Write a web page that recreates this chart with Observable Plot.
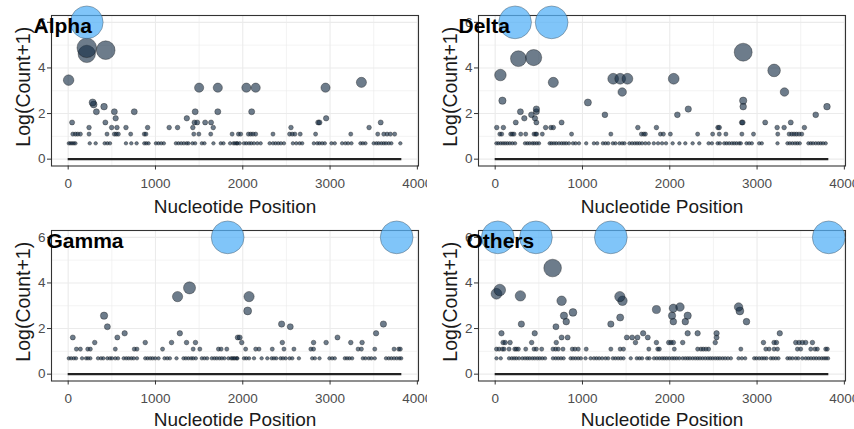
<!DOCTYPE html>
<html><head><meta charset="utf-8">
<script src="https://cdn.jsdelivr.net/npm/d3@7"></script>
<script src="https://cdn.jsdelivr.net/npm/@observablehq/plot@0.6"></script>
<style>
body{margin:0;background:#fff;}
#root{position:relative;width:854px;height:429px;overflow:hidden;background:#fff;}
.panel{position:absolute;}
.panel svg{overflow:hidden;}
</style></head><body><div id="root"></div>
<script>
// ---- axes / layout constants (values) ----
const panelNames = ["Alpha", "Delta", "Gamma", "Others"];
const genomeSpan = [0, 3822];
const xTicks = [0, 1000, 2000, 3000, 4000];
const xMinor = [500, 1500, 2500, 3500];
const yTicks = [0, 2, 4, 6];
const yMinor = [1, 3, 5];
const logCap = 6; // Log(Count+1) values above this are capped

// ---- Alpha ----
const alphaCapped = [213];
const alphaMulti = [[5,31],[213,131],[213,100],[430,118],[280,11],[292,10],[323,7],[411,9],[529,7],[544,5],[757,7],[45,4],
  [1500,22],[1714,22],[2041,22],[2148,22],[2948,22],[3359,28],[1455,7],[1714,7],[2102,7],[1359,5],[2955,5],
  [426,4],[1447,4],[1478,4],[1569,4],[1637,4],[2864,4],[2879,4],[3580,4],
  [239,3],[498,3],[559,3],[662,3],[910,3],[1157,3],[1253,3],[1428,3],[1662,3],[2552,3],[3447,3]];
const alphaTwos = [53,83,110,140,239,445,529,552,575,716,872,891,1439,1497,1633,1878,1950,1976,2064,2091,2117,2148,2346,2536,2567,2597,2658,2834,3237,3546,3615,3653,3691,3740];
const alphaOnes = [7,26,45,64,83,247,315,418,449,479,662,723,784,872,895,921,1005,1035,1066,1096,1234,1264,1295,1325,1356,1378,1424,1455,1531,1561,1664,1748,1779,1855,1893,1931,1911,1938,1965,2014,2041,2072,2098,2129,2167,2205,2308,2346,2376,2407,2437,2472,2574,2613,2651,2681,2814,2853,2879,2910,2940,3016,3054,3138,3176,3207,3245,3348,3375,3405,3500,3531,3557,3588,3615,3641,3672,3702,3805];

// ---- Delta ----
const deltaCapped = [228, 647];
const deltaMulti = [[266,81],[441,85],[60,39],[666,28],[1352,33],[1432,33],[1515,33],[1455,18],[2045,33],[2841,108],[3195,48],[3314,18],
  [83,12],[1062,11],[2841,12],[2841,9],[1257,6],[289,7],[334,5],[415,6],[472,8],[472,7],[456,5],[236,4],[472,4],[2087,6],[2212,8],[3672,6],[3801,9],[2826,4],[2835,4],[3093,4],[3386,4],[761,4],
  [18,3],[94,3],[578,3],[639,3],[666,3],[1634,3],[1847,3],[2552,3],[2567,3],[3230,3],[3310,3],[3542,3]];
const deltaTwos = [53,75,178,197,216,293,350,445,464,475,540,875,1325,1675,1702,1721,1893,1927,2007,2319,2491,2567,2643,2826,2959,3237,3367,3397,3424,3451,3481,3512];
const deltaOnes = [14,37,64,90,114,140,167,197,228,342,369,395,426,449,476,502,624,647,674,700,731,761,788,814,845,891,921,960,1043,1131,1169,1234,1264,1295,1348,1378,1424,1455,1481,1538,1569,1599,1626,1653,1683,1721,1760,1817,1866,1912,1957,2033,2110,2178,2262,2338,2445,2483,2548,2574,2624,2651,2681,2712,2738,2765,2795,2814,2879,2910,2940,3024,3054,3234,3348,3375,3405,3435,3462,3489,3588,3615,3641,3672,3702,3729,3756,3786];

// ---- Gamma ----
const gammaCapped = [1827, 3763];
const gammaMulti = [[1253,29],[1390,43],[2072,29],[2056,15],[411,12],[449,7],[2445,8],[2544,7],[3611,8],
  [53,4],[563,4],[1942,4],[1965,4],[3085,4],[647,5],[1279,5],[3527,5],
  [304,3],[883,3],[1184,3],[1356,3],[1458,3],[1988,3],[2453,3],[2811,3],[2955,3],[3237,3],[3367,3]];
const gammaTwos = [94,140,224,254,540,757,788,1081,1432,1508,1721,1752,1817,2033,2148,2186,2338,2472,2586,2780,2811,3321,3359,3512,3733,3786,3805];
const gammaOnes = [7,34,64,90,159,205,228,254,342,376,403,449,479,502,540,571,636,666,693,723,750,788,883,910,940,967,998,1035,1104,1135,1165,1241,1321,1348,1378,1409,1432,1462,1531,1561,1592,1645,1675,1702,1733,1760,1790,1836,1866,1897,1931,1881,1911,1938,2014,2041,2072,2129,2216,2281,2331,2357,2384,2433,2460,2491,2536,2567,2643,2795,2826,2879,2993,3024,3054,3169,3195,3222,3253,3375,3405,3443,3473,3512,3641,3672,3702,3733,3763,3794,3815];

// ---- Others ----
const othersCapped = [30, 467, 1325, 3821];
const othersMulti = [[658,104],[15,33],[53,39],[289,30],[761,24],[891,14],[788,12],[814,9],[696,7],[300,8],[1428,29],[1458,24],[1432,11],[1325,8],[1847,16],
  [2041,17],[2117,18],[2026,12],[2041,9],[2205,12],[2178,9],[2788,18],[2803,15],[2879,9],
  [72,5],[453,5],[1695,5],[2205,5],[2319,5],[2536,5],[3260,5],
  [761,4],[830,4],[1508,4],[1569,4],[1630,4],[1748,4],[2536,4],
  [91,3],[114,3],[171,3],[418,3],[700,3],[1607,3],[1847,3],[1988,3],[2014,3],[2041,3],[2148,3],[2521,3],[3073,3],[3195,3],[3222,3],[3443,3],[3481,3],[3519,3],[3557,3],[3634,3]];
const othersTwos = [15,45,83,102,159,224,243,266,350,445,472,533,662,693,723,777,883,914,952,1043,1325,1432,1470,1760,1862,1881,2052,2319,2357,2384,2414,2445,2814,3100,3138,3195,3234,3462,3500,3615,3664,3691,3786,3805];
const othersOnes = [15,64,159,190,217,243,274,312,342,369,395,426,453,483,510,540,571,662,693,723,754,784,864,891,921,952,982,1035,1093,1131,1161,1192,1226,1264,1295,1348,1378,1409,1439,1470,1553,1622,1653,1683,1741,1767,1820,1851,1882,1912,1938,1965,1995,2026,2052,2079,2110,2148,2178,2205,2231,2262,2292,2319,2346,2376,2407,2437,2464,2491,2521,2548,2574,2605,2635,2666,2700,2788,2826,2864,2967,2993,3024,3054,3081,3108,3157,3184,3214,3245,3348,3375,3405,3443,3473,3519,3557,3588,3618,3649,3679,3710,3740,3767,3790,3813];

// ---- build ----
const capCount = Math.expm1(logCap);
function rows(multi, twos, ones) {
  return [
    ...multi.map(([pos, count]) => ({pos, count})),
    ...twos.map(pos => ({pos, count: 2})),
    ...ones.map(pos => ({pos, count: 1}))
  ];
}
const panels = [
  {name: panelNames[0], pts: rows(alphaMulti, alphaTwos, alphaOnes), capped: alphaCapped, left: 0, top: 0, h: 215, titleX: 33, xTitleDy: 41},
  {name: panelNames[1], pts: rows(deltaMulti, deltaTwos, deltaOnes), capped: deltaCapped, left: 427, top: 0, h: 215, titleX: 31, xTitleDy: 41},
  {name: panelNames[2], pts: rows(gammaMulti, gammaTwos, gammaOnes), capped: gammaCapped, left: 0, top: 215, h: 214, titleX: 46, xTitleDy: 39},
  {name: panelNames[3], pts: rows(othersMulti, othersTwos, othersOnes), capped: othersCapped, left: 427, top: 215, h: 214, titleX: 39, xTitleDy: 39}
];

const root = document.getElementById("root");
const font = "'Liberation Sans', Arial, sans-serif";
for (const p of panels) {
  const mt = 15, mb = p.h - 165.5, ml = 51, mr = 9;
  const capRows = p.capped.map(pos => ({pos, count: capCount}));
  const chart = Plot.plot({
    width: 427, height: p.h,
    marginTop: mt, marginBottom: mb, marginLeft: ml, marginRight: mr,
    style: {fontFamily: font, background: "transparent", overflow: "hidden"},
    x: {domain: [-191, 4013], label: null},
    y: {domain: [-0.3, 6.3], label: null},
    r: {type: "sqrt", domain: [0, capCount], range: [1, 16.4], clamp: true},
    marks: [
      Plot.ruleX(xMinor, {stroke: "#EBEBEB", strokeWidth: 0.6}),
      Plot.ruleY(yMinor, {stroke: "#EBEBEB", strokeWidth: 0.6}),
      Plot.ruleX(xTicks, {stroke: "#EBEBEB", strokeWidth: 1.1}),
      Plot.ruleY(yTicks, {stroke: "#EBEBEB", strokeWidth: 1.1}),
      Plot.frame({stroke: "#333333", strokeWidth: 1.1}),
      Plot.axisX({ticks: xTicks, tickSize: 4, tickPadding: 8.5, fontSize: 13.5, color: "#4D4D4D", stroke: "#333333", label: null, tickFormat: d => String(d)}),
      Plot.axisY({ticks: yTicks, tickSize: 4, tickPadding: 2, fontSize: 13.5, color: "#4D4D4D", stroke: "#333333", label: null, tickFormat: d => String(d)}),
      Plot.ruleY([0], {x1: genomeSpan[0], x2: genomeSpan[1], stroke: "#222222", strokeWidth: 2.2}),
      Plot.dot(p.pts, {x: "pos", y: d => Math.log1p(d.count), r: "count",
        fill: "#132B43", fillOpacity: 0.62, stroke: "#111111", strokeOpacity: 0.7, strokeWidth: 0.5,
        sort: {channel: "r"}}),
      Plot.dot(capRows, {x: "pos", y: d => Math.min(logCap, Math.log1p(d.count)), r: "count",
        fill: "#56B1F7", fillOpacity: 0.75, stroke: "#333333", strokeOpacity: 0.7, strokeWidth: 0.5}),
      Plot.text(["Nucleotide Position"], {frameAnchor: "bottom", lineAnchor: "middle", dy: p.xTitleDy, fontSize: 19, fill: "#1a1a1a"}),
      Plot.text(["Log(Count+1)"], {frameAnchor: "left", textAnchor: "middle", lineAnchor: "middle", rotate: -90, dx: -27.7, dy: -4, fontSize: 19.5, fill: "#1a1a1a"}),
      Plot.text([p.name], {frameAnchor: "top-left", textAnchor: "start", lineAnchor: "middle", dx: p.titleX - ml, dy: 25.3 - mt, fontSize: 21, fontWeight: "bold", fill: "#000"})
    ]
  });
  const div = document.createElement("div");
  div.className = "panel";
  div.style.left = p.left + "px";
  div.style.top = p.top + "px";
  div.appendChild(chart);
  root.appendChild(div);
}
</script></body></html>
